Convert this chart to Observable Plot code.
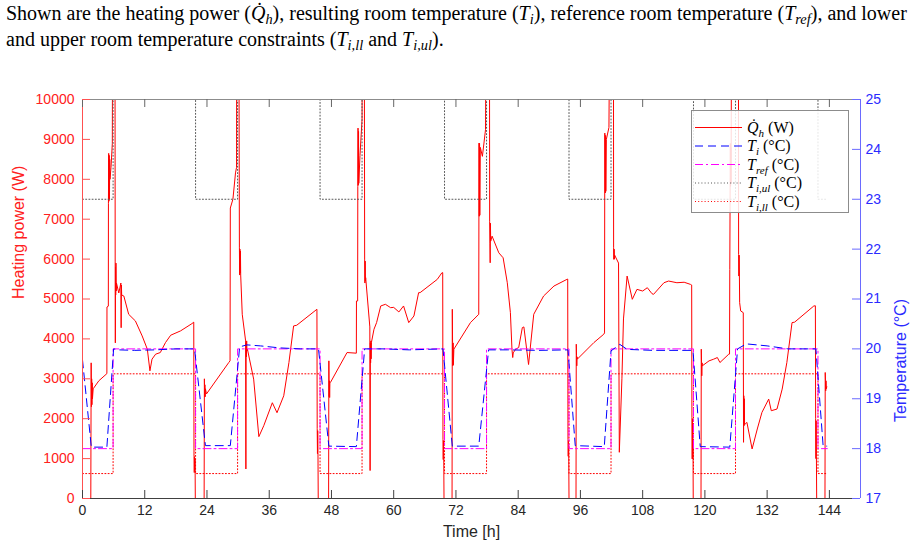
<!DOCTYPE html>
<html><head><meta charset="utf-8">
<script src="https://cdn.jsdelivr.net/npm/d3@7"></script>
<script src="https://cdn.jsdelivr.net/npm/@observablehq/plot@0.6"></script>
<style>
body{margin:0;background:#fff;}
#wrap{position:relative;width:920px;height:548px;overflow:hidden;background:#fff;}
#cap{position:absolute;left:6px;top:0px;font-family:"Liberation Serif","Times New Roman",serif;font-size:20px;line-height:26px;color:#000;white-space:nowrap;}
#cap sub{font-size:0.72em;line-height:0;vertical-align:-0.3em;}
#chart{position:absolute;left:0;top:55px;}
#legend{position:absolute;left:691px;top:110px;}
</style></head>
<body>
<div id="wrap">
<div id="cap">Shown are the heating power (<i>Q̇<sub>h</sub></i>), resulting room temperature (<i>T<sub>i</sub></i>), reference room temperature (<i>T<sub>ref</sub></i>), and lower<br>and upper room temperature constraints (<i>T<sub>i,ll</sub></i> and <i>T<sub>i,ul</sub></i>).</div>
<div id="chart"></div>
<svg id="legend" width="158" height="103"></svg>
</div>
<script>
// ---- axis ticks ----
const timeTicks = [0,12,24,36,48,60,72,84,96,108,120,132,144];
const powerTicks = [0,1000,2000,3000,4000,5000,6000,7000,8000,9000,10000];
const tempTicks = [17,18,19,20,21,22,23,24,25];

// ---- heating power Q_h [h, W] (values above 10000 are clipped at the top) ----
const heatDay1 = [[0,0],[1.6,0],[1.67,3400],[1.72,2300],[1.77,3000],[1.82,2350],[1.87,2900],[1.92,2500],[2.06,2750],[3.15,2950],[4.7,3130],[4.72,4800],[4.98,4820],[5.0,7400],[5.05,8650],[5.1,7450],[5.15,8600],[5.2,7500],[5.25,8500],[5.3,8000],[5.5,8300],[5.75,8900],[5.85,15000],[6.25,15000],[6.3,5950],[6.33,3900],[6.36,5800],[6.4,5100],[6.45,5900],[6.5,5200],[6.55,5400],[7.0,5150],[7.4,5400],[7.45,4280],[7.5,5350],[7.55,5100],[7.97,5075],[8.9,4617],[10.2,4450],[11.5,4075],[12.5,3742],[13.0,3200],[13.4,3492],[14.1,3617],[15.0,3658],[16.0,3908],[17.0,4092],[18.9,4200],[21.1,4383],[21.45,4420],[21.5,1050],[21.55,650],[21.6,1050],[21.65,700],[21.7,1000],[21.75,0],[23.45,0],[23.5,3000],[23.55,2550],[23.6,2850],[23.65,2550],[23.7,2750],[23.9,2620],[28.2,3408],[28.45,3450],[28.5,7280],[29.0,7500],[29.5,8160],[29.7,8300],[29.75,15000]];
const heatDay2 = [[30.1,15000],[30.25,6300],[30.3,5600],[30.35,6250],[30.4,5650],[30.45,6200],[30.5,5600],[30.8,4617],[31.45,3950],[31.5,740],[31.55,3900],[31.6,3550],[31.65,3950],[31.7,3700],[31.8,3742],[33.0,2992],[34.0,1550],[34.95,1825],[36.6,2400],[37.5,2150],[38.8,2575],[39.8,3408],[40.7,4325],[41.3,4342],[45.2,4742],[45.25,1750],[45.3,1125],[45.35,1700],[45.4,1150],[45.45,0],[47.45,0],[47.5,3450],[47.55,2550],[47.6,2950],[47.65,2530],[47.7,2900],[47.8,2908],[51.0,3658],[52.8,3642],[52.82,4950],[53.05,4950],[53.08,7825],[53.12,9283],[53.17,7850],[53.22,9200],[53.27,7900],[53.5,8600],[53.9,9500],[54.0,15000]];
const heatDay3 = [[54.3,15000],[54.4,6000],[54.45,5400],[54.5,5950],[54.55,5450],[54.6,5533],[55.4,4300],[55.45,700],[55.5,3900],[55.55,3400],[55.6,3950],[55.65,3500],[55.7,3908],[56.2,4242],[56.7,4408],[57.5,4825],[58.4,4867],[59.4,4783],[60.0,4790],[61.0,4675],[61.9,4825],[62.9,4408],[63.9,4575],[64.8,5158],[65.1,5160],[68.4,5492],[69.3,5658],[69.45,5660],[69.5,1475],[69.55,975],[69.6,1450],[69.65,1000],[69.7,0],[71.25,0],[71.3,4742],[71.35,3908],[71.4,3325],[71.45,3900],[71.5,3350],[71.6,3742],[74.8,4408],[76.4,4617],[76.45,8908],[76.5,7075],[76.55,8900],[76.6,7100],[76.7,8800],[77.1,8575],[77.7,9242],[77.95,15000]];
const heatDay4 = [[78.45,15000],[78.5,6950],[78.55,6400],[78.6,5908],[78.65,6900],[78.7,6450],[78.97,6575],[80.26,6158],[81.1,6033],[81.9,5408],[82.5,4658],[82.8,3742],[82.95,3533],[83.05,3650],[83.5,3742],[84.1,3783],[84.8,4283],[85.1,4300],[86.0,3358],[87.0,4617],[88.9,5075],[90.9,5325],[93.4,5492],[93.55,5500],[93.6,1475],[93.65,1058],[93.7,1450],[93.75,1060],[93.8,0],[95.15,0],[95.2,3867],[95.25,3583],[95.3,3325],[95.35,3550],[95.4,3492],[98.6,3908],[100.5,4117],[100.65,4150],[100.7,9158],[100.8,7658],[100.85,9100],[100.9,7700],[101.0,9000],[101.5,9300],[101.8,15000]];
const heatDay5 = [[102.35,15000],[102.4,6283],[102.45,5992],[102.5,6250],[102.55,6000],[102.6,6100],[103.35,5900],[103.5,1158],[104.0,3000],[104.3,4500],[105.0,5575],[106.0,4992],[106.9,5242],[108.0,5200],[108.9,5283],[109.8,5133],[110.1,5117],[112.1,5408],[113.0,5450],[114.6,5408],[116.0,5420],[117.2,5367],[117.45,5350],[117.5,2033],[117.55,992],[117.6,2000],[117.65,1000],[117.7,1500],[117.75,0],[119.25,0],[119.3,3742],[119.35,3408],[119.4,3075],[119.45,3400],[119.5,3325],[120.8,3450],[121.7,3492],[122.4,3533],[122.9,3408],[124.6,3617],[124.75,3620],[124.8,5742],[124.9,8900],[124.95,7825],[125.0,8800],[125.05,7900],[125.2,15000]];
const heatDay6 = [[126.45,15000],[126.5,6117],[126.55,5575],[126.6,6100],[126.65,5600],[126.7,4908],[126.9,4700],[127.4,4658],[127.45,1408],[127.5,2575],[127.55,1825],[127.6,2500],[127.65,1850],[128.1,1908],[129.1,1242],[130.1,1742],[131.0,2158],[132.3,2492],[132.8,2200],[133.9,2242],[134.9,2742],[135.8,3408],[136.8,4408],[137.3,4420],[141.0,4825],[141.3,4830],[141.35,2000],[141.4,1000],[141.45,1950],[141.5,1050],[141.55,0],[143.15,0],[143.2,3158],[143.25,2950],[143.3,2700],[143.35,2950],[143.4,2750],[143.5,2800]];

// ---- room temperature T_i [h, °C] ----
const tiTime = [0,1.7,4.7,6.0,7,10,14,18,21.6,23.7,28.5,30.3,31.7,34.3,38,42,45.5,47.5,52.8,54.4,58,63,69.5,71.3,76.4,78.3,82,88,93.6,95.0,100.6,101.9,103.6,105,110,117.7,119.1,124.8,126.3,128,132,136,141.4,142.8,143.5];
const tiVal  = [19.78,18.03,18.03,20.0,19.98,19.97,19.98,20.0,20.0,18.06,18.06,20.04,20.08,20.06,20.02,20.0,20.0,18.05,18.04,20.0,20.0,19.98,20.0,18.05,18.05,19.98,19.98,19.97,19.98,18.06,18.04,19.96,20.09,19.99,19.97,19.97,18.04,18.03,20.0,20.1,20.06,20.0,20.0,18.05,18.05];

// ---- schedule: reference and constraints (step changes) ----
const schedTime = [0,5.9,21.8,29.9,45.8,53.9,69.8,77.9,93.8,101.9,117.8,125.9,141.8,143.6];
const trefVal = [18,20,18,20,18,20,18,20,18,20,18,20,18,18];
const tulVal  = [23,26,23,26,23,26,23,26,23,26,23,26,23,23];
const tllVal  = [17.5,19.5,17.5,19.5,17.5,19.5,17.5,19.5,17.5,19.5,17.5,19.5,17.5,17.5];

// temperature axis (right) shares the frame with power axis (left): 17..25 °C  <->  0..10000 W
const toW = t => (t - 17) * 1250;

const heat = [...heatDay1,...heatDay2,...heatDay3,...heatDay4,...heatDay5,...heatDay6].map(([t,w]) => ({t, w}));
const ti = tiTime.map((t,i) => ({t, v: tiVal[i]}));
const tref = schedTime.map((t,i) => ({t, v: trefVal[i]}));
const tul = schedTime.map((t,i) => ({t, v: tulVal[i]}));
const tll = schedTime.map((t,i) => ({t, v: tllVal[i]}));

const RED = "#ff0000", BLUE = "#0000ff", MAG = "#ff00ff", DOT = "#555";
const W = 920, H = 493, mT = 44, mB = 50, mL = 82, mR = 60;
const fw = W - mL - mR, fh = H - mT - mB;

const chart = Plot.plot({
  width: W, height: H,
  marginTop: mT, marginBottom: mB, marginLeft: mL, marginRight: mR,
  x: {domain: [0, 150]},
  y: {domain: [0, 10000]},
  style: {fontFamily: "'Liberation Sans', Arial, sans-serif", fontSize: "14px", background: "transparent"},
  marks: [
    Plot.line(heat, {x: "t", y: "w", stroke: RED, strokeWidth: 1, clip: true}),
    Plot.line(tll, {x: "t", y: d => toW(d.v), curve: "step-after", stroke: RED, strokeWidth: 1, strokeDasharray: "1,2.2", clip: true}),
    Plot.line(tul, {x: "t", y: d => toW(d.v), curve: "step-after", stroke: DOT, strokeWidth: 1, strokeDasharray: "1,2.2", clip: true}),
    Plot.line(tref, {x: "t", y: d => toW(d.v), curve: "step-after", stroke: MAG, strokeWidth: 1, strokeDasharray: "8,3,2,3", clip: true}),
    Plot.line(ti, {x: "t", y: d => toW(d.v), stroke: BLUE, strokeWidth: 1, strokeDasharray: "8,5", clip: true}),
    // box
    Plot.ruleY([10000], {stroke: "#8c8c8c"}),
    Plot.ruleY([0], {stroke: "#404040"}),
    Plot.ruleX([0], {stroke: "#ff5050"}),
    Plot.ruleX([150], {stroke: "#6a6aff"}),
    // inward ticks
    Plot.tickX(timeTicks, {x: d => d, stroke: "#404040", insetTop: fh - 8}),
    Plot.tickX(timeTicks, {x: d => d, stroke: "#666", insetBottom: fh - 8}),
    Plot.tickY(powerTicks, {y: d => d, stroke: "#ff5050", insetRight: fw - 8}),
    Plot.tickY(tempTicks, {y: toW, stroke: "#6a6aff", insetLeft: fw - 8}),
    // tick labels
    Plot.axisX(timeTicks, {anchor: "bottom", tickSize: 0, tickPadding: 7, label: null, color: "#262626", tickFormat: d => String(d)}),
    Plot.axisY(powerTicks, {anchor: "left", tickSize: 0, tickPadding: 8, label: null, color: "#ff2020", tickFormat: d => String(d)}),
    Plot.axisY(tempTicks.map(toW), {anchor: "right", tickSize: 0, tickPadding: 5, label: null, color: "#2a2aff", tickFormat: w => String(w / 1250 + 17)}),
    // axis titles
    Plot.text(["Time [h]"], {text: d => d, frameAnchor: "bottom", dy: 38, fontSize: 16, fill: "#262626"}),
    Plot.text(["Heating power (W)"], {text: d => d, frameAnchor: "left", dx: -64, rotate: -90, fontSize: 16, fill: "#ff2020"}),
    Plot.text(["Temperature (°C)"], {text: d => d, frameAnchor: "right", dx: 40, rotate: -90, fontSize: 16, fill: "#2a2aff"})
  ]
});
document.getElementById("chart").appendChild(chart);

// ---- legend ----
const legendItems = [
  {color: RED, dash: null, label: ["Q̇", "h", " (W)"]},
  {color: BLUE, dash: "8,5", label: ["T", "i", " (°C)"]},
  {color: MAG, dash: "8,3,2,3", label: ["T", "ref", " (°C)"]},
  {color: DOT, dash: "1,2.2", label: ["T", "i,ul", " (°C)"]},
  {color: RED, dash: "1,2.2", label: ["T", "i,ll", " (°C)"]}
];
const lg = d3.select("#legend");
lg.append("rect").attr("x", 0.5).attr("y", 0.5).attr("width", 157).attr("height", 102)
  .attr("fill", "rgba(255,255,255,0.85)").attr("stroke", "#8c8c8c");
legendItems.forEach((it, i) => {
  const y = 17.5 + i * 18.5;
  lg.append("line").attr("x1", 4).attr("x2", 51).attr("y1", y).attr("y2", y)
    .attr("stroke", it.color).attr("stroke-width", 1).attr("stroke-dasharray", it.dash);
  const tx = lg.append("text").attr("x", 56).attr("y", y + 5)
    .attr("font-family", "'Liberation Serif','Times New Roman',serif").attr("font-size", 16);
  tx.append("tspan").attr("font-style", "italic").text(it.label[0]);
  tx.append("tspan").attr("font-style", "italic").attr("font-size", 11).attr("dy", 4).text(it.label[1]);
  tx.append("tspan").attr("dy", -4).text(it.label[2]);
});
</script>
</body></html>
